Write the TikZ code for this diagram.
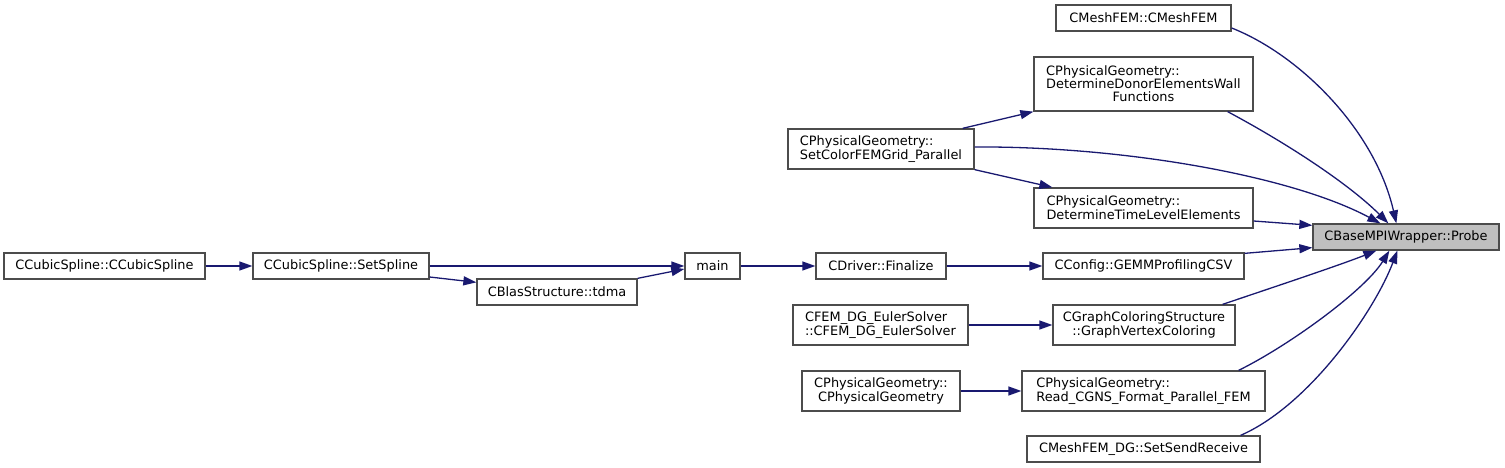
\documentclass[tikz,border=0pt]{standalone}
\usepackage{fontspec}
\setmainfont{DejaVu Sans}
\usetikzlibrary{arrows.meta}
\definecolor{edgeblue}{RGB}{25,25,112}
\definecolor{boxgray}{RGB}{191,191,191}
\begin{document}
\begin{tikzpicture}[x=1pt,y=-1pt,
 box/.style={draw=black!70, line width=1.3pt, fill=white, inner sep=0pt, minimum height=26pt, font=\fontsize{12.9pt}{14pt}\selectfont, align=left},
 edge/.style={draw=edgeblue, line width=1.3pt, -{Triangle[length=13pt,width=9pt]}}]
\useasboundingbox (0,0) rectangle (1505,468);
\node[box, fill=boxgray, minimum width=186pt] (probe) at (1406,237) {CBaseMPIWrapper::Probe};
\node[box, minimum width=175pt] (cmesh) at (1143.5,18) {CMeshFEM::CMeshFEM};
\node[box, minimum width=219pt, minimum height=54pt, align=center, font=\fontsize{12.9pt}{13pt}\selectfont] (donor) at (1143.5,84) {\rlap{CPhysicalGeometry::}\phantom{DetermineDonorElementsWall}\\DetermineDonorElementsWall\\Functions};
\node[box, minimum width=186pt, minimum height=40pt] (setcolor) at (881,149) {CPhysicalGeometry::\\SetColorFEMGrid\_Parallel};
\node[box, minimum width=219pt, minimum height=40pt] (timelevel) at (1143.5,208) {CPhysicalGeometry::\\DetermineTimeLevelElements};
\node[box, minimum width=201pt] (gemm) at (1143.5,266) {CConfig::GEMMProfilingCSV};
\node[box, minimum width=130pt] (cdriver) at (881,266) {CDriver::Finalize};
\node[box, minimum width=55pt] (main) at (712.5,266) {main};
\node[box, minimum width=176pt] (setspline) at (341,266) {CCubicSpline::SetSpline};
\node[box, minimum width=201pt] (ccubic) at (104.5,266) {CCubicSpline::CCubicSpline};
\node[box, minimum width=160pt] (tdma) at (557,292) {CBlasStructure::tdma};
\node[box, minimum width=175pt, minimum height=40pt] (cfem) at (880.5,325) {CFEM\_DG\_EulerSolver\\::CFEM\_DG\_EulerSolver};
\node[box, minimum width=182pt, minimum height=40pt, align=center] (graph) at (1144,325) {CGraphColoringStructure\\::GraphVertexColoring};
\node[box, minimum width=158pt, minimum height=40pt, align=center] (cphys) at (881,391) {CPhysicalGeometry::\\CPhysicalGeometry};
\node[box, minimum width=243pt, minimum height=40pt] (cgns) at (1143.5,391) {CPhysicalGeometry::\\Read\_CGNS\_Format\_Parallel\_FEM};
\node[box, minimum width=233pt] (sendrecv) at (1143.5,449) {CMeshFEM\_DG::SetSendReceive};

\draw[edge] (ccubic.east) -- (setspline.west);
\draw[edge] (setspline.east) -- (main.west);
\draw[edge] ([yshift=-11pt]setspline.east) -- ([yshift=-4pt]tdma.north west);
\draw[edge] (tdma.north east) -- ([yshift=-3pt]main.west);
\draw[edge] (main.east) -- (cdriver.west);
\draw[edge] (cdriver.east) -- (gemm.west);
\draw[edge] (cfem.east) -- (graph.west);
\draw[edge] (cphys.east) -- (cgns.west);
\draw[edge] ([xshift=-12pt]setcolor.north east) -- (donor.south west);
\draw[edge] (setcolor.south east) -- ([xshift=19pt]timelevel.north west);
\draw[edge] ([yshift=2pt]setcolor.east) .. controls (1120,146) and (1290,175) .. ([xshift=68pt]probe.north west);
\draw[edge] ([yshift=-10pt]cmesh.east) .. controls (1300,55) and (1375,130) .. ([xshift=84pt]probe.north west);
\draw[edge] ([xshift=-26pt]donor.south east) .. controls (1290,145) and (1350,185) .. ([xshift=76pt]probe.north west);
\draw[edge] ([yshift=-13pt]timelevel.east) -- ([yshift=-2pt]probe.north west);
\draw[edge] ([yshift=-1pt]gemm.north east) -- ([yshift=3pt]probe.south west);
\draw[edge] ([xshift=-13pt]graph.north east) .. controls (1280,285) and (1340,265) .. ([xshift=64pt]probe.south west);
\draw[edge] ([xshift=-27pt]cgns.north east) .. controls (1290,345) and (1365,290) .. ([xshift=77pt]probe.south west);
\draw[edge] ([xshift=-20pt]sendrecv.north east) .. controls (1310,405) and (1375,310) .. ([xshift=85pt]probe.south west);
\end{tikzpicture}
\end{document}
